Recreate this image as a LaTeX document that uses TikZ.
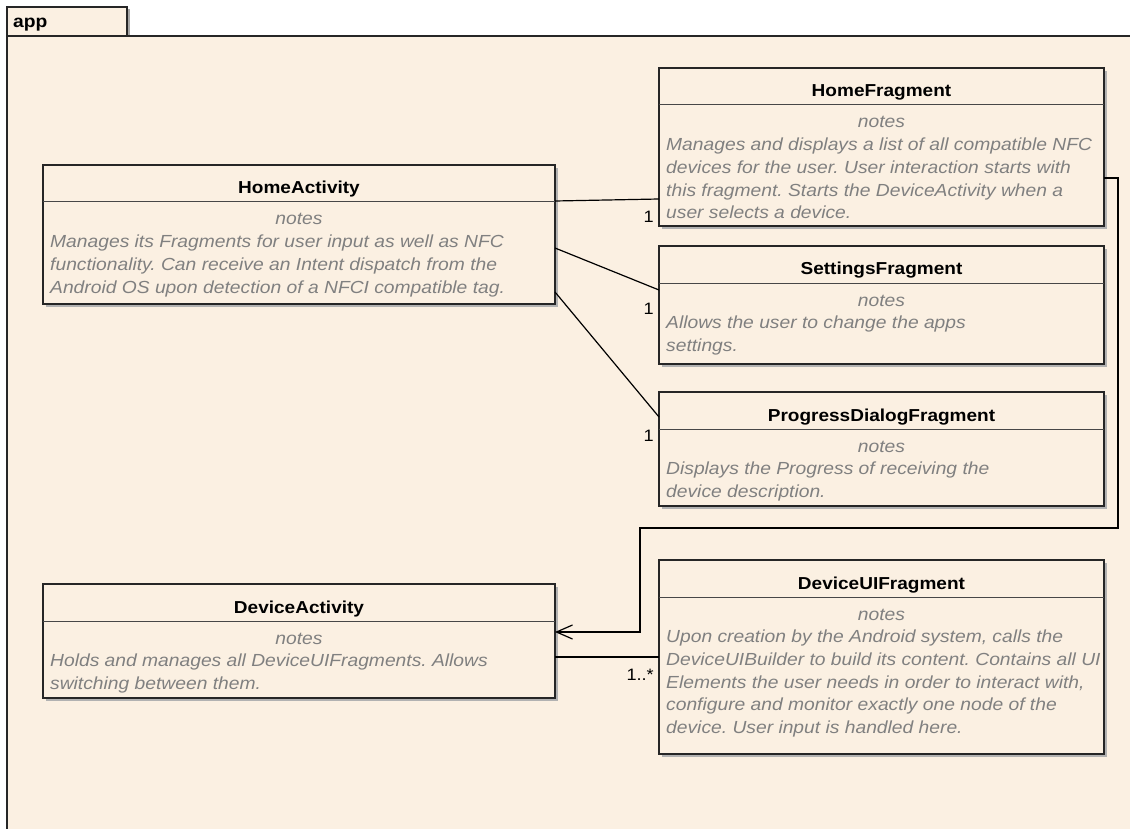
\documentclass[tikz,border=0pt]{standalone}
\usepackage{fontspec}
\setmainfont{Liberation Sans}[FakeStretch=1.1]
\usetikzlibrary{calc,arrows.meta,shadows}
\frenchspacing

\definecolor{paper}{HTML}{FBF0E2}
\definecolor{notegray}{HTML}{808080}
\definecolor{edge}{HTML}{262626}

\tikzset{
  classbox/.style={draw=edge, line width=1.6pt, fill=paper, inner sep=0pt,
    outer sep=0pt, anchor=north west,
    drop shadow={shadow xshift=3pt, shadow yshift=-3pt, fill=black!30, opacity=1}},
  divider/.style={draw=edge!85, line width=1pt},
  titletext/.style={font=\bfseries\fontsize{17.3}{20}\selectfont, text=black,
    inner sep=0pt, anchor=base},
  notehead/.style={font=\itshape\fontsize{17.5}{22.7}\selectfont, text=notegray,
    inner sep=0pt, anchor=base},
  notetext/.style={font=\itshape\fontsize{17.5}{22.7}\selectfont, text=notegray,
    inner sep=0pt, anchor=base west},
  mult/.style={font=\fontsize{16.5}{20}\selectfont, text=black, inner sep=0pt,
    anchor=base east},
  assoc/.style={draw=black, line width=1.2pt},
  nav/.style={draw=black, line width=1.2pt,
    -{Straight Barb[length=16pt,width=14pt,line width=1.2pt]}},
}

% class box: name, x, y, width, height, title, note lines
\newcommand\umlclass[7]{%
  \node[classbox, minimum width=#4pt, minimum height=#5pt] (#1) at (#2,#3) {};
  \draw[divider] ($(#1.north west)+(0,37)$) -- ($(#1.north east)+(0,37)$);
  \node[titletext] (#1-title) at ($(#1.north)+(0,29)$) {#6};
  \node[notehead] (#1-notes) at ($(#1.north)+(0,60)$) {notes};
  \foreach \txt [count=\i] in {#7} {%
    \node[notetext] (#1-l\i) at ($(#1.north west)+(7,60+22.7*\i)$) {\txt};
  }%
}

\begin{document}
\begin{tikzpicture}[x=1pt,y=-1pt]
  % page and package frame
  \fill[white] (0,0) rectangle (1130,829);
  \useasboundingbox (0,0) rectangle (1130,829);
  \fill[paper] (7,36) rectangle (1131,830);
  \draw[black!35, line width=2pt] (128.5,9) -- (128.5,35);
  \draw[edge, fill=paper, line width=1.5pt] (7,7) rectangle (127,36);
  \draw[edge, line width=1.8pt] (7,830) -- (7,36) -- (1131,36);
  \node[font=\bfseries\fontsize{17.5}{20}\selectfont, anchor=base west, inner sep=0pt]
    (pkg) at (13,28) {app};

  % classes
  \umlclass{hf}{659}{68}{445}{158}{HomeFragment}{%
    {Manages and displays a list of all compatible NFC},%
    {devices for the user. User interaction starts with},%
    {this fragment. Starts the DeviceActivity when a},%
    {user selects a device.}}
  \umlclass{ha}{43}{165}{512}{139}{HomeActivity}{%
    {Manages its Fragments for user input as well as NFC},%
    {functionality. Can receive an Intent dispatch from the},%
    {Android OS upon detection of a NFCI compatible tag.}}
  \umlclass{sf}{659}{246}{445}{118}{SettingsFragment}{%
    {Allows the user to change the apps},%
    {settings.}}
  \umlclass{pd}{659}{392}{445}{114}{ProgressDialogFragment}{%
    {Displays the Progress of receiving the},%
    {device description.}}
  \umlclass{da}{43}{584}{512}{114}{DeviceActivity}{%
    {Holds and manages all DeviceUIFragments. Allows},%
    {switching between them.}}
  \umlclass{dui}{659}{560}{445}{194}{DeviceUIFragment}{%
    {Upon creation by the Android system, calls the},%
    {DeviceUIBuilder to build its content. Contains all UI},%
    {Elements the user needs in order to interact with,},%
    {configure and monitor exactly one node of the},%
    {device. User input is handled here.}}

  % associations from HomeActivity to its fragments
  \draw[assoc] ($(ha.north east)+(0,36)$) -- ($(hf.south west)+(0,-27)$);
  \draw[assoc] ($(ha.north east)+(0,83)$) -- ($(sf.north west)+(0,44)$);
  \draw[assoc] ($(ha.north east)+(0,127)$) -- ($(pd.north west)+(0,25)$);
  \node[mult] (m-hf) at ($(hf.north west)+(-5,155)$) {1};
  \node[mult] (m-sf) at ($(sf.north west)+(-5,68)$) {1};
  \node[mult] (m-pd) at ($(pd.north west)+(-5,49)$) {1};

  % HomeFragment starts DeviceActivity
  \coordinate (rail) at (1118,528);
  \coordinate (elbow) at (640,528);
  \draw[nav] ($(hf.north east)+(0,110)$) -| (rail) -- (elbow)
    |- ($(da.north east)+(0,48)$);

  % DeviceActivity holds DeviceUIFragments
  \draw[assoc] ($(da.north east)+(0,73)$) -- ($(dui.north west)+(0,97)$);
  \node[mult] (m-dui) at ($(dui.north west)+(-5,120)$) {1..*};
\end{tikzpicture}
\end{document}
